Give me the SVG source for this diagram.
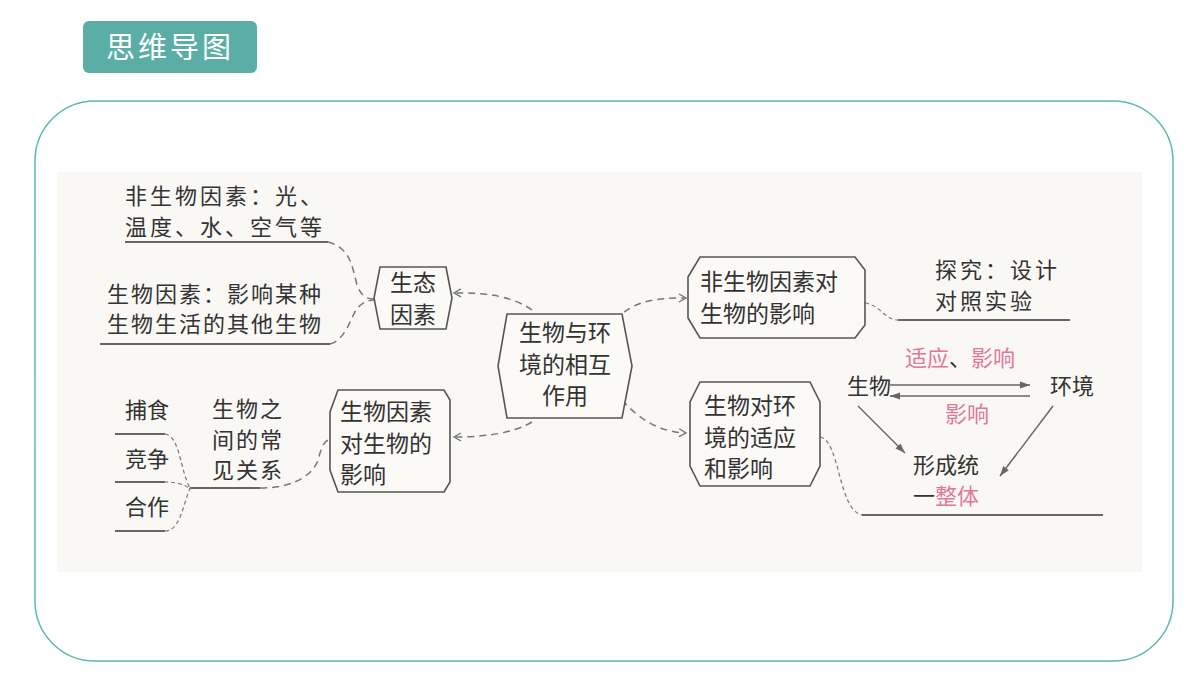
<svg xmlns="http://www.w3.org/2000/svg" width="1200" height="675" viewBox="0 0 1200 675">
<defs>
<style>
.t{font-family:"Noto Sans CJK SC","Noto Sans",sans-serif;fill:#333;font-size:22px}
.n{font-family:"Noto Sans CJK SC","Noto Sans",sans-serif;fill:#333;font-size:23px}
.p{fill:#e0789a}
.box{fill:#fbfaf6;stroke:#555;stroke-width:1.6}
.d{fill:none;stroke:#777;stroke-width:1.5;stroke-dasharray:7 5}
.dd{fill:none;stroke:#777;stroke-width:1.2;stroke-dasharray:4 3}
.u{stroke:#666;stroke-width:2}
.a{fill:none;stroke:#666;stroke-width:1.5}
</style>
<marker id="o" markerWidth="10" markerHeight="10" refX="8" refY="5" orient="auto" markerUnits="userSpaceOnUse"><path d="M1,1 L8,5 L1,9" fill="none" stroke="#777" stroke-width="1.4"/></marker>
<marker id="f" markerWidth="12" markerHeight="10" refX="10" refY="5" orient="auto" markerUnits="userSpaceOnUse"><path d="M0,1.5 L10,5 L0,8.5 Z" fill="#666"/></marker>
</defs>
<rect width="1200" height="675" fill="#fff"/>
<rect x="83" y="21" width="174" height="52" rx="6" fill="#5aaea6"/>
<text x="170" y="58" text-anchor="middle" font-family="Noto Sans CJK SC,sans-serif" font-size="29" fill="#fff" letter-spacing="3">思维导图</text>
<rect x="35" y="101" width="1138" height="560" rx="60" fill="#fff" stroke="#5fb8b0" stroke-width="1.5"/>
<rect x="57" y="172" width="1085" height="400" fill="#f9f8f4"/>

<g id="connectors">
<path class="d" d="M532,310 C515,298 490,292 454,293" marker-end="url(#o)"/>
<path class="d" d="M532,422 C515,432 490,437 454,437" marker-end="url(#o)"/>
<path class="d" d="M615,320 C635,300 655,298 686,298" marker-end="url(#o)"/>
<path class="d" d="M622,400 C640,420 660,432 686,433" marker-end="url(#o)"/>
<path class="d" d="M328,242 C350,248 352,265 357,285 C362,298 368,299 374,299"/>
<path class="d" d="M330,344 C345,340 350,320 356,310 C362,302 368,300 374,300"/>
<path class="dd" d="M165,434 C180,436 180,470 190,488"/>
<path class="dd" d="M115,482 L165,482 C180,482 185,486 190,488"/>
<path class="dd" d="M165,531 C180,531 183,505 190,488"/>
<path class="d" d="M260,488 C300,488 315,470 318,460 C322,445 325,440 330,440"/>
<path class="dd" d="M865,303 C880,305 885,320 898,320"/>
<path class="dd" d="M820,437 C840,440 838,510 862,515"/>
<line class="a" x1="890" y1="385" x2="1030" y2="385" marker-end="url(#f)"/>
<line class="a" x1="1030" y1="396" x2="890" y2="396" marker-end="url(#f)"/>
<line class="a" x1="858" y1="406" x2="905" y2="453" marker-end="url(#f)"/>
<line class="a" x1="1053" y1="406" x2="1000" y2="476" marker-end="url(#f)"/>
</g>

<g id="center">
<polygon class="box" points="507,314 622,314 632,366 622,418 507,418 498,366"/>
<text class="n" x="565" y="341" text-anchor="middle">生物与环</text>
<text class="n" x="565" y="373" text-anchor="middle">境的相互</text>
<text class="n" x="565" y="404" text-anchor="middle">作用</text>
</g>
<g id="stfactor">
<polygon class="box" points="380,267 446,267 452,298 446,329 380,329 374,298"/>
<text class="n" x="413" y="291" text-anchor="middle">生态</text>
<text class="n" x="413" y="323" text-anchor="middle">因素</text>
</g>
<g id="bio-effect">
<polygon class="box" points="338,390 444,390 450,400 450,482 444,492 338,492 330,470 330,412"/>
<text class="n" x="340" y="420">生物因素</text>
<text class="n" x="340" y="452">对生物的</text>
<text class="n" x="340" y="483">影响</text>
</g>
<g id="abio-effect">
<polygon class="box" points="700,257 855,257 865,270 865,325 855,338 700,338 688,318 688,277"/>
<text class="n" x="700" y="290">非生物因素对</text>
<text class="n" x="700" y="322">生物的影响</text>
</g>
<g id="adapt">
<polygon class="box" points="700,382 810,382 820,402 820,466 810,486 700,486 690,466 690,402"/>
<text class="n" x="704" y="414">生物对环</text>
<text class="n" x="704" y="446">境的适应</text>
<text class="n" x="704" y="477">和影响</text>
</g>

<g id="left-text">
<text class="t" x="125" y="204" letter-spacing="3">非生物因素：光、</text>
<text class="t" x="125" y="235" letter-spacing="3">温度、水、空气等</text>
<line class="u" x1="125" y1="242" x2="328" y2="242"/>
<text class="t" x="107" y="302" letter-spacing="2">生物因素：影响某种</text>
<text class="t" x="107" y="332" letter-spacing="2">生物生活的其他生物</text>
<line class="u" x1="100" y1="344" x2="330" y2="344"/>
<text class="t" x="125" y="418">捕食</text>
<line class="u" x1="115" y1="434" x2="165" y2="434"/>
<text class="t" x="125" y="467">竞争</text>
<line class="u" x1="115" y1="482" x2="165" y2="482"/>
<text class="t" x="125" y="515">合作</text>
<line class="u" x1="115" y1="531" x2="165" y2="531"/>
<text class="t" x="212" y="417" letter-spacing="2">生物之</text>
<text class="t" x="212" y="448" letter-spacing="2">间的常</text>
<text class="t" x="212" y="478" letter-spacing="2">见关系</text>
<line class="u" x1="190" y1="488" x2="260" y2="488"/>
</g>
<g id="right-text">
<text class="t" x="935" y="278" letter-spacing="3">探究：设计</text>
<text class="t" x="935" y="309" letter-spacing="3">对照实验</text>
<line class="u" x1="898" y1="320" x2="1070" y2="320"/>
<text class="t" x="905" y="366"><tspan class="p">适应</tspan>、<tspan class="p">影响</tspan></text>
<text class="t" x="847" y="394">生物</text>
<text class="t" x="1050" y="394">环境</text>
<text class="t p" x="945" y="422">影响</text>
<text class="t" x="913" y="473">形成统</text>
<text class="t" x="913" y="504">一<tspan class="p">整体</tspan></text>
<line class="u" x1="862" y1="515" x2="1103" y2="515"/>
</g>
</svg>
